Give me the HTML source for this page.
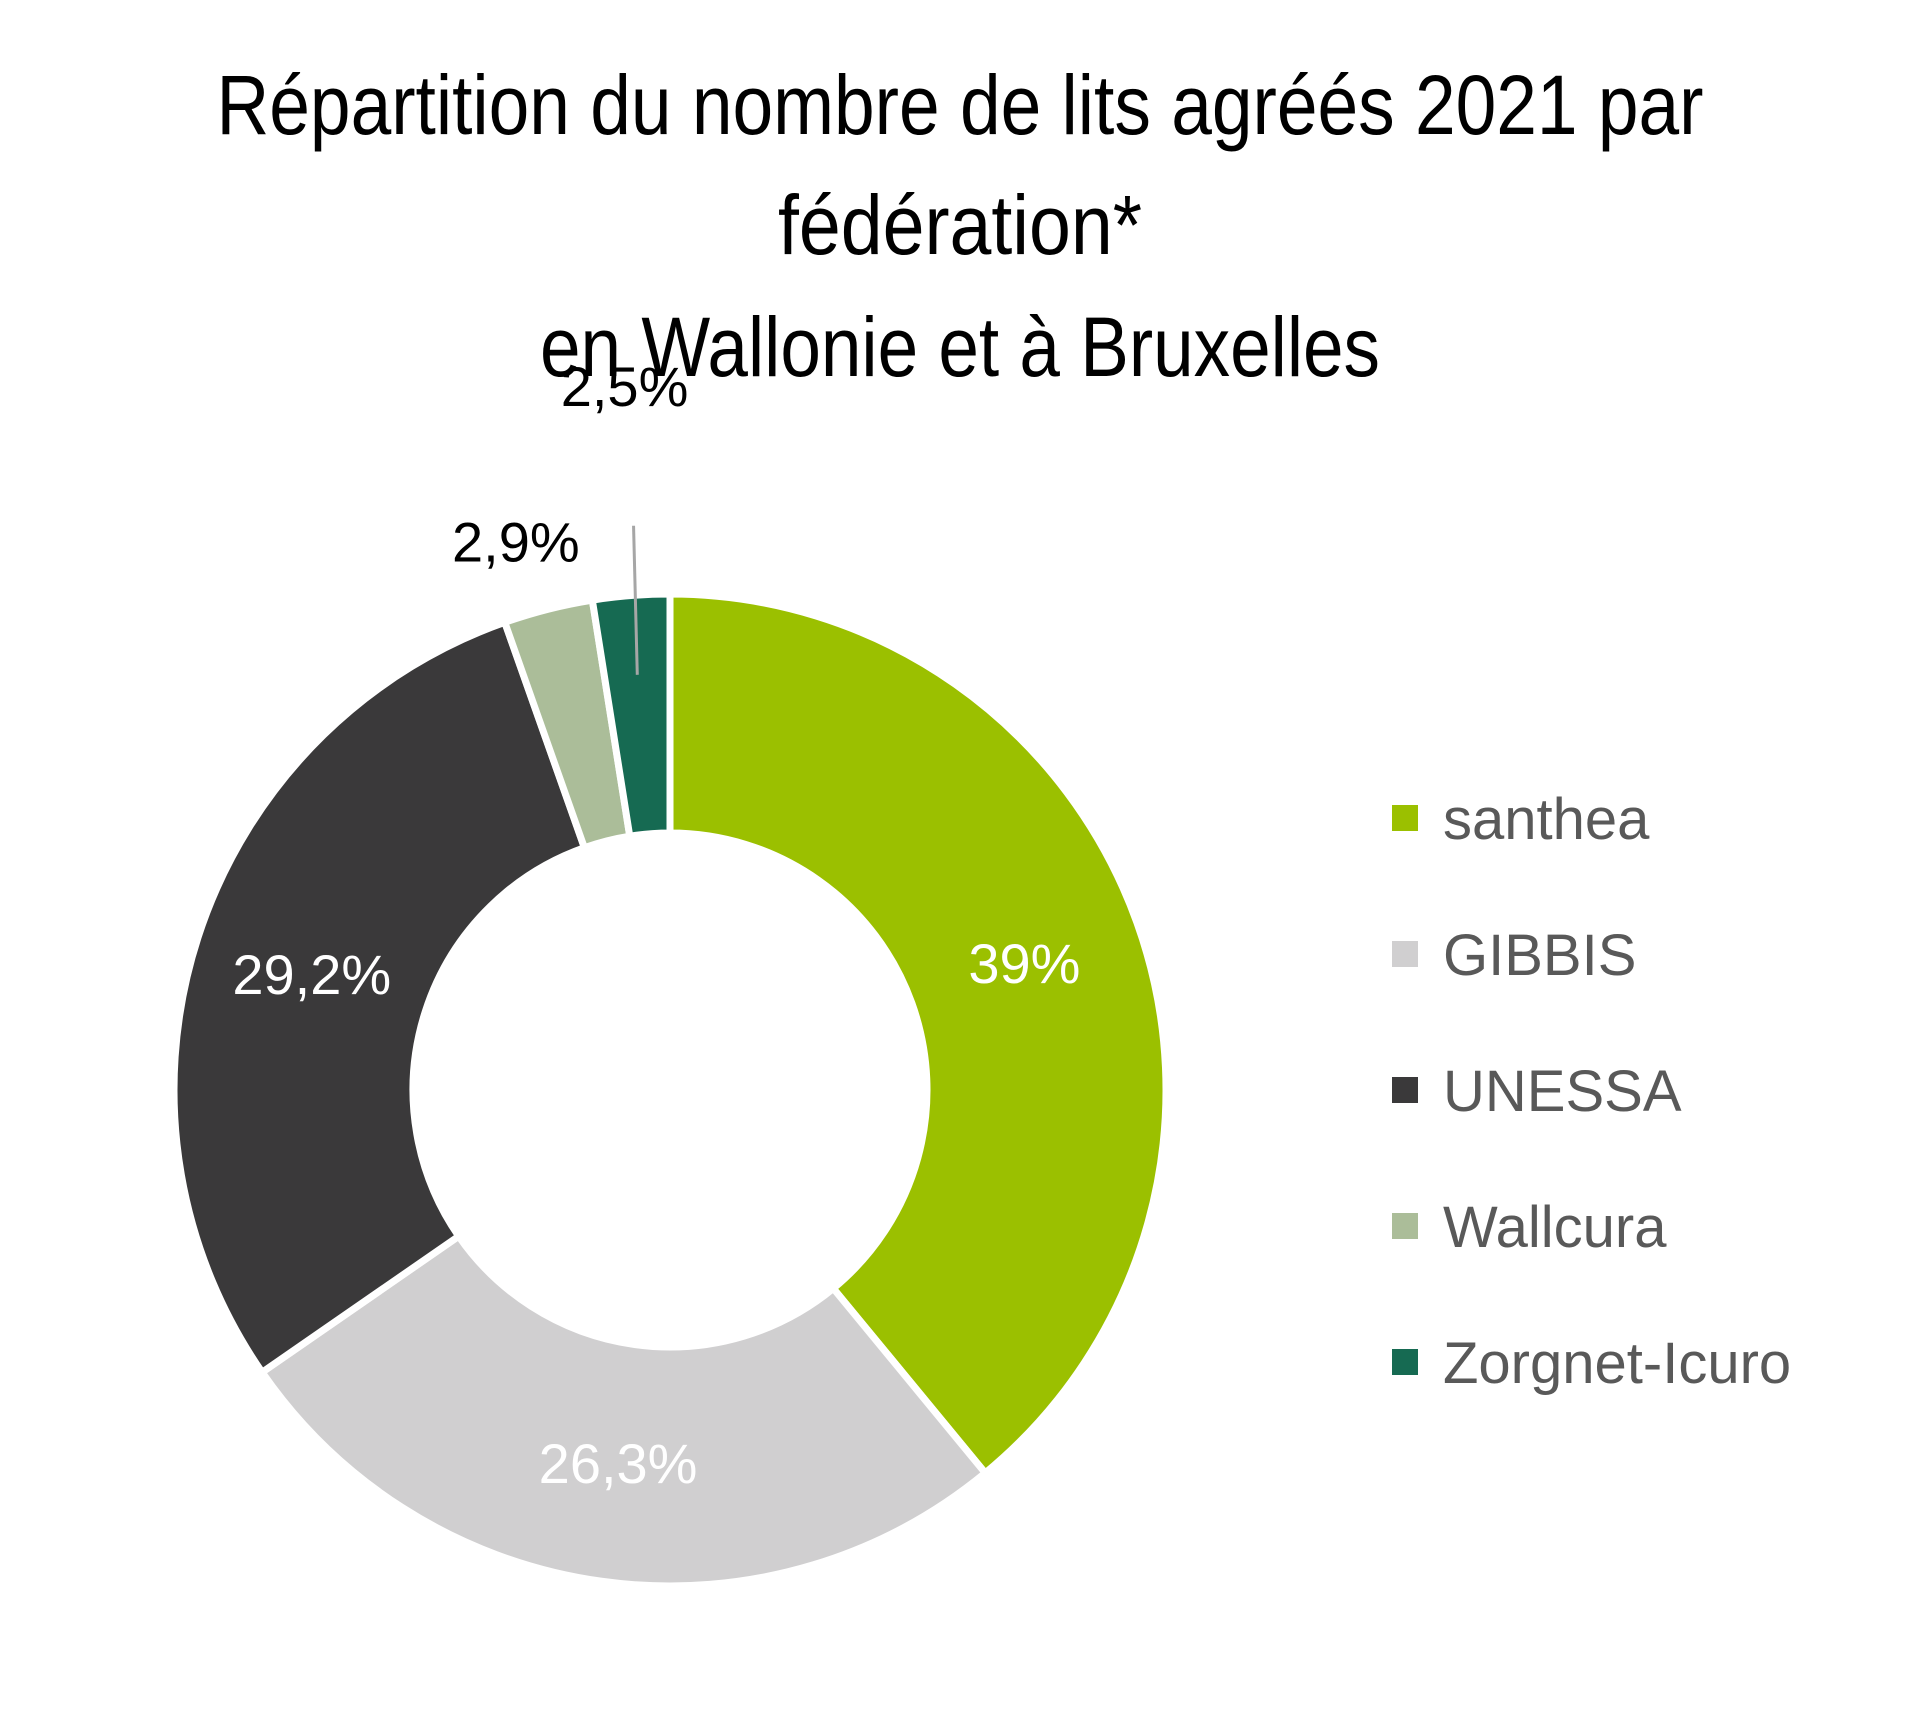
<!DOCTYPE html>
<html><head><meta charset="utf-8"><style>
html,body{margin:0;padding:0;background:#fff;}
svg{display:block;}
</style></head><body>
<svg width="1920" height="1724" viewBox="0 0 1920 1724">
<g font-family="Liberation Sans Narrow, Liberation Sans, sans-serif" font-size="84" fill="#000" text-anchor="middle">
<text x="960" y="134" textLength="1487" lengthAdjust="spacingAndGlyphs">Répartition du nombre de lits agréés 2021 par</text>
<text x="960" y="254" textLength="364" lengthAdjust="spacingAndGlyphs">fédération*</text>
<text x="960" y="376" textLength="840" lengthAdjust="spacingAndGlyphs">en Wallonie et à Bruxelles</text>
</g>
<g id="slices"></g>
<g id="labels" font-family="Liberation Sans, sans-serif" font-size="56"></g>
<g id="legend" font-family="Liberation Sans, sans-serif" font-size="58" fill="#595959"></g>
</svg>
<script>
const categories=["santhea","GIBBIS","UNESSA","Wallcura","Zorgnet-Icuro"];
const values=[39,26.3,29.2,2.9,2.5];
const valueLabels=["39%","26,3%","29,2%","2,9%","2,5%"];
const colors=["#9BC000","#D0CFD0","#3A393A","#ABBD99","#166A52"];
const labelColors=["#fff","#fff","#fff","#000","#000"];
const NS="http://www.w3.org/2000/svg";
const cx=670,cy=1090,R=496,r=257;
const total=values.reduce((a,b)=>a+b,0);
function pt(a,rad){return [cx+rad*Math.sin(a),cy-rad*Math.cos(a)];}
const sg=document.getElementById('slices'),lg=document.getElementById('labels'),leg=document.getElementById('legend');
let acc=0;
values.forEach((v,i)=>{
 const a0=acc/total*2*Math.PI;acc+=v;const a1=acc/total*2*Math.PI;
 const large=(a1-a0)>Math.PI?1:0;
 const p0=pt(a0,R),p1=pt(a1,R),q1=pt(a1,r),q0=pt(a0,r);
 const p=document.createElementNS(NS,'path');
 p.setAttribute('d',`M${p0} A${R},${R} 0 ${large} 1 ${p1} L${q1} A${r},${r} 0 ${large} 0 ${q0}Z`);
 p.setAttribute('fill',colors[i]);p.setAttribute('stroke','#fff');p.setAttribute('stroke-width','7');
 
 
 sg.appendChild(p);
 const am=(a0+a1)/2;
 let lp,t=document.createElementNS(NS,'text');
 if(v>10){lp=pt(am,(R+r)/2);}
 else if(i===3){lp=pt(am,R+70);lp[0]-=15;}
 else{lp=pt(am,R+210);lp[0]+=10;
  const s=pt(am,R+70),e=pt(am,(R+r)/2+40);
  const ln=document.createElementNS(NS,'line');
  ln.setAttribute('x1',s[0]+8);ln.setAttribute('y1',s[1]);ln.setAttribute('x2',e[0]);ln.setAttribute('y2',e[1]);
  ln.setAttribute('stroke','#A6A6A6');ln.setAttribute('stroke-width','3');
  
  
  lg.appendChild(ln);}
 t.setAttribute('x',lp[0]);t.setAttribute('y',lp[1]+20);t.setAttribute('text-anchor','middle');
 t.setAttribute('fill',labelColors[i]);t.textContent=valueLabels[i];
 
 
 lg.appendChild(t);
 const g=document.createElementNS(NS,'g');
 
 
 const y=818+i*136;
 const rc=document.createElementNS(NS,'rect');
 rc.setAttribute('x',1392);rc.setAttribute('y',y-13);rc.setAttribute('width',26);rc.setAttribute('height',26);rc.setAttribute('fill',colors[i]);
 const tt=document.createElementNS(NS,'text');
 tt.setAttribute('x',1443);tt.setAttribute('y',y+21);tt.textContent=categories[i];
 g.appendChild(rc);g.appendChild(tt);leg.appendChild(g);
});
</script>
</body></html>
